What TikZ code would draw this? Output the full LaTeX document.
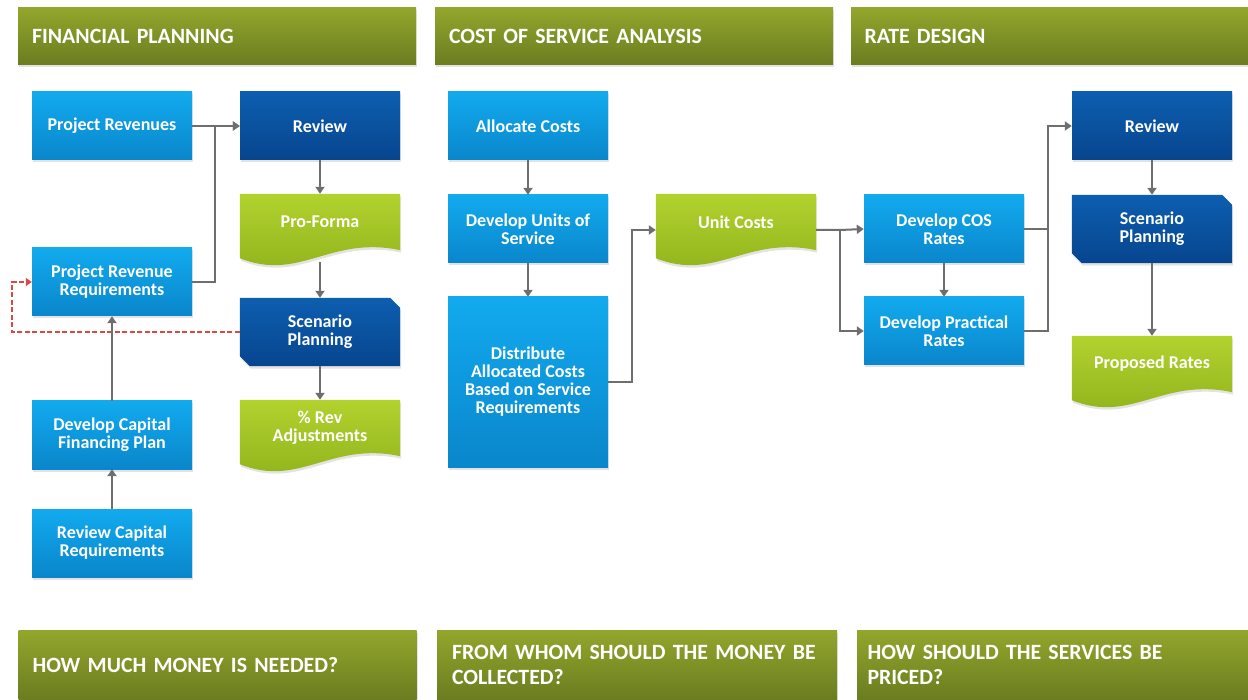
\documentclass[tikz,border=0pt]{standalone}
\usepackage{fontspec}
\setmainfont{Carlito}
\usetikzlibrary{arrows.meta,shadows,backgrounds}

\definecolor{skyA}{HTML}{12AAEE}
\definecolor{skyB}{HTML}{0A86CC}
\definecolor{navyA}{HTML}{0D5EB0}
\definecolor{navyB}{HTML}{07458E}
\definecolor{limeA}{HTML}{B2D22E}
\definecolor{limeB}{HTML}{8DB01A}
\definecolor{oliveA}{HTML}{93A62C}
\definecolor{oliveB}{HTML}{6A7C20}
\definecolor{linkgray}{HTML}{6E6E6E}
\definecolor{loopred}{HTML}{DA4A44}

\tikzset{
  softshadow/.style={drop shadow={opacity=0.22, shadow xshift=1pt, shadow yshift=-2.5pt}},
  boxtext/.style={text=white, font=\bfseries\fontsize{18}{18}\selectfont, align=center, minimum width=160pt, inner sep=2pt},
  lbox/.style={boxtext, minimum height=68pt, top color=skyA, bottom color=skyB, softshadow},
  dbox/.style={boxtext, minimum height=68pt, top color=navyA, bottom color=navyB, softshadow},
  dcard/.style={boxtext, minimum height=68pt},
  gdoc/.style={boxtext, minimum height=56pt},
  banner/.style={text=white, font=\bfseries\fontsize{21.8}{25}\selectfont, align=left, text width=370pt, minimum width=398pt, top color=oliveA, bottom color=oliveB, softshadow},
  conn/.style={draw=linkgray, line width=2pt, -{Triangle[width=9pt,length=7pt]}},
  link/.style={draw=linkgray, line width=2pt},
  feedback/.style={draw=loopred, line width=1.3pt, dash pattern=on 5pt off 2.5pt, -{Triangle[width=8pt,length=6pt]}}
}

% dark card with two clipped corners
\newcommand{\cardshape}[1]{%
  \path[top color=navyA, bottom color=navyB, softshadow] (#1.north west) -- ([xshift=-10pt]#1.north east) -- ([yshift=-10pt]#1.north east) -- (#1.south east) -- ([xshift=10pt]#1.south west) -- ([yshift=10pt]#1.south west) -- cycle;}
% green document with a wavy foot
\newcommand{\docshape}[1]{%
  \path[top color=limeA, bottom color=limeB, softshadow] (#1.north west) -- (#1.north east) -- (#1.south east) .. controls +(-70,-15) and +(60,24) .. ([yshift=-8pt]#1.south west) -- cycle;}

\begin{document}
\begin{tikzpicture}[x=1pt,y=-1pt]
            \useasboundingbox (0,0) rectangle (1248,700);
            \node[banner, minimum height=57pt] (fphead) at (217,36.5) {FINANCIAL PLANNING};
            \node[banner, minimum height=57pt] (coshead) at (634,36.5) {COST OF SERVICE ANALYSIS};
            \node[banner, minimum height=57pt, minimum width=397pt] (rdhead) at (1049.5,36.5) {RATE DESIGN};
            \node[banner, minimum height=70pt] (fpfoot) at (217.5,665) {HOW MUCH MONEY IS NEEDED?};
            \node[banner, minimum height=70pt, minimum width=400pt] (cosfoot) at (637,665) {FROM WHOM SHOULD THE MONEY BE\\COLLECTED?};
            \node[banner, minimum height=70pt, minimum width=391pt] (rdfoot) at (1052.5,665) {HOW SHOULD THE SERVICES BE\\PRICED?};
            \node[lbox] (prjrev) at (112,126) {Project Revenues};
            \node[dbox] (fpreview) at (320,126) {Review};
            \node[gdoc] (proforma) at (320,222) {Pro-Forma};
            \node[lbox] (prjreq) at (112,282) {Project Revenue\\Requirements};
            \node[dcard] (fpscen) at (320,332) {Scenario\\Planning};
            \node[gdoc] (revadj) at (320,428) {\% Rev\\Adjustments};
            \node[lbox] (capfin) at (112,435) {Develop Capital\\Financing Plan};
            \node[lbox] (capreq) at (112,543) {Review Capital\\Requirements};
            \node[lbox] (alloc) at (528,126) {Allocate Costs};
            \node[lbox] (units) at (528,229) {Develop Units of\\Service};
            \node[lbox, minimum height=170pt] (distrib) at (528,382) {Distribute\\Allocated Costs\\Based on Service\\Requirements};
            \node[gdoc] (unitcost) at (736,222) {Unit Costs};
            \node[lbox] (cosrates) at (944,229) {Develop COS\\Rates};
            \node[lbox] (practical) at (944,331) {Develop Practical\\Rates};
            \node[dbox] (rdreview) at (1152,126) {Review};
            \node[dcard] (rdscen) at (1152,229) {Scenario\\Planning};
            \node[gdoc] (proposed) at (1152,364) {Proposed Rates};
            \begin{scope}[on background layer]
                \docshape{proforma}
                \docshape{revadj}
                \docshape{unitcost}
                \docshape{proposed}
                \cardshape{fpscen}
                \cardshape{rdscen}
            \end{scope}
            \coordinate (fpjoin) at (215,126);
            \coordinate (fbturn) at (12,332);
            \coordinate (sajoin) at (632,230);
            \coordinate (rdsplit) at (840,230);
            \coordinate (rdjoin) at (1048,126);
            \draw[conn] (prjrev) -- (fpreview);
            \draw[conn] (prjreq.east) -| (fpjoin) -- (fpreview.west);
            \draw[conn] (fpreview) -- (proforma);
            \draw[conn] ([yshift=-12pt]proforma.south) -- (fpscen);
            \draw[conn] (fpscen.south) -- (revadj.north);
            \draw[feedback] (fpscen.west) -- (fbturn) |- (prjreq.west);
            \draw[conn] (capfin) -- (prjreq);
            \draw[conn] (capreq) -- (capfin);
            \draw[conn] (alloc) -- (units);
            \draw[conn] (units) -- (distrib);
            \draw[conn] (distrib.east) -| (sajoin) -- ([yshift=-8pt]unitcost.west);
            \draw[conn] ([yshift=-8pt]unitcost.east) -- (rdsplit) -- (cosrates.west);
            \draw[conn] (rdsplit) |- (practical.west);
            \draw[conn] (cosrates) -- (practical);
            \draw[conn] (cosrates.east) -| (rdjoin) -- (rdreview.west);
            \draw[link] (practical.east) -| (rdjoin);
            \draw[conn] (rdreview) -- (rdscen);
            \draw[conn] (rdscen.south) -- (proposed.north);
        \end{tikzpicture}
\end{document}
